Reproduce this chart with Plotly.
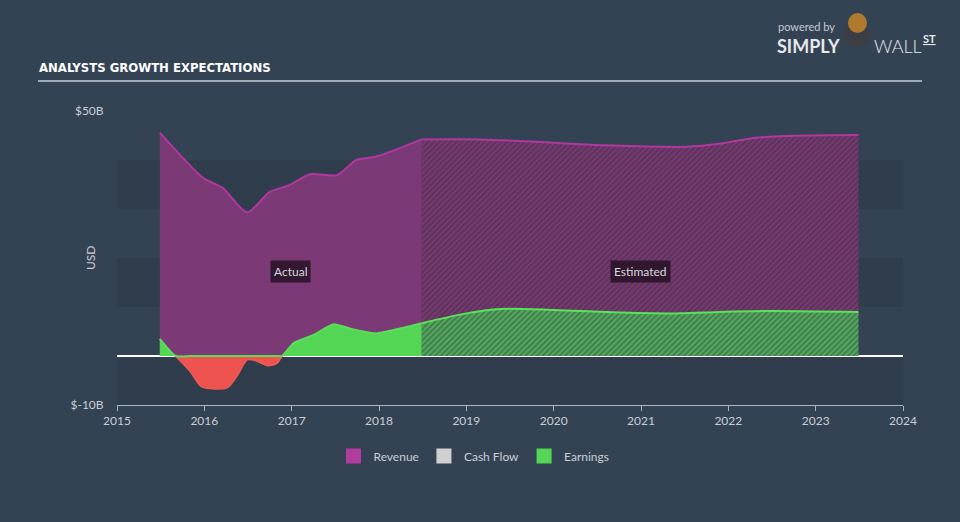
import numpy as np
import plotly.graph_objects as go

# ---- data (USD billions) ----
rev_act_x = [2015.49, 2015.99, 2016.21, 2016.49, 2016.75, 2016.98, 2017.21, 2017.52, 2017.74, 2017.97, 2018.49]
rev_act_y = [45.6, 36.3, 34.3, 29.3, 33.5, 34.9, 37.1, 36.9, 40.0, 40.7, 44.2]
rev_est_x = [2018.49, 2019.12, 2019.61, 2020.19, 2020.76, 2021.52, 2021.90, 2022.29, 2022.67, 2023.49]
rev_est_y = [44.2, 44.2, 43.9, 43.3, 42.9, 42.7, 43.3, 44.5, 44.9, 45.1]

earn_act_x = [2015.49, 2015.67, 2015.84, 2015.97, 2016.26, 2016.37, 2016.49, 2016.58, 2016.73, 2016.83, 2016.89,
              2017.02, 2017.25, 2017.48, 2017.71, 2017.97, 2018.24, 2018.49]
earn_act_y = [3.5, 0.0, -3.2, -6.3, -6.5, -4.2, -0.8, -0.9, -2.0, -1.5, 0.0,
              2.6, 4.3, 6.5, 5.4, 4.6, 5.6, 6.7]
earn_est_x = [2018.49, 2018.97, 2019.39, 2019.99, 2020.76, 2021.45, 2021.90, 2022.48, 2023.49]
earn_est_y = [6.7, 8.6, 9.6, 9.4, 8.9, 8.7, 9.0, 9.2, 9.0]

band_ranges = [(30, 40), (10, 20), (-10, 0)]
y_ticks = [-10, 50]
y_ticktext = ["$-10B", "$50B"]
x_ticks = list(range(2015, 2025))
legend_names = ["Revenue", "Cash Flow", "Earnings"]
legend_colors = ["#b03c9e", "#d0d0d0", "#54d655"]

# ---- layout geometry helpers (pixel -> paper) ----
L, R, T, B = 117, 903, 111, 405
def px(x):
    return (x - L) / (R - L)
def py(y):
    return (B - y) / (B - T)

BG = "#344354"
TXT = "#c9ced5"
FONT = "Lato, Noto Sans, sans-serif"

fig = go.Figure()

# revenue actual
fig.add_trace(go.Scatter(x=rev_act_x, y=rev_act_y, mode="lines", fill="tozeroy",
                         line=dict(color="#b0389f", width=2, shape="spline", smoothing=0.7),
                         fillcolor="#7b3975", showlegend=False, hoverinfo="skip"))
# revenue estimated (hatched)
fig.add_trace(go.Scatter(x=rev_est_x, y=rev_est_y, mode="lines", fill="tozeroy",
                         line=dict(color="#b0389f", width=2, shape="spline", smoothing=0.7),
                         fillcolor="#5e355b",
                         fillpattern=dict(shape="/", bgcolor="#5c3459", fgcolor="#9a3f93",
                                          size=4, solidity=0.45),
                         showlegend=False, hoverinfo="skip"))

ea = np.array(earn_act_y)
pos = np.clip(ea, 0, None)
neg_mask = ea <= 0
neg_x = [x for x, m in zip(earn_act_x, neg_mask) if m]
neg_y = [y for y, m in zip(earn_act_y, neg_mask) if m]

# earnings negative (red)
fig.add_trace(go.Scatter(x=neg_x, y=neg_y, mode="lines", fill="tozeroy",
                         line=dict(color="#f05a55", width=1.5, shape="spline", smoothing=0.7),
                         fillcolor="#ee5350", showlegend=False, hoverinfo="skip"))
# earnings positive actual
fig.add_trace(go.Scatter(x=earn_act_x, y=pos, mode="lines", fill="tozeroy",
                         line=dict(color="#5ade5a", width=2, shape="spline", smoothing=0.5),
                         fillcolor="#54d655", showlegend=False, hoverinfo="skip"))
# earnings estimated (hatched)
fig.add_trace(go.Scatter(x=earn_est_x, y=earn_est_y, mode="lines", fill="tozeroy",
                         line=dict(color="#5ae35a", width=2, shape="spline", smoothing=0.7),
                         fillcolor="#46805a",
                         fillpattern=dict(shape="/", bgcolor="#437a52", fgcolor="#62e062",
                                          size=4, solidity=0.5),
                         showlegend=False, hoverinfo="skip"))

# legend-only entries
for name, col in zip(legend_names, legend_colors):
    fig.add_trace(go.Scatter(x=[None], y=[None], mode="markers", name=name,
                             marker=dict(symbol="square", size=15, color=col)))

shapes = []
for lo, hi in band_ranges:
    shapes.append(dict(type="rect", xref="paper", yref="y", x0=0, x1=1, y0=lo, y1=hi,
                       fillcolor="#2e3b4a", opacity=0.75, line=dict(width=0), layer="below"))
# title underline
shapes.append(dict(type="line", xref="paper", yref="paper", x0=px(38), x1=px(922), y0=py(81), y1=py(81),
                   line=dict(color="#a2abb5", width=2)))
# simple bull logo approximation
shapes.append(dict(type="circle", xref="paper", yref="paper", x0=px(844), x1=px(871), y0=py(47), y1=py(24),
                   fillcolor="#3b3f45", line=dict(width=0)))
shapes.append(dict(type="circle", xref="paper", yref="paper", x0=px(848), x1=px(867), y0=py(33), y1=py(13),
                   fillcolor="#b07a2e", line=dict(width=0)))

annotations = [
    dict(text="<b>ANALYSTS GROWTH EXPECTATIONS</b>", xref="paper", yref="paper", x=px(37), y=py(68),
         xanchor="left", yanchor="middle", showarrow=False,
         font=dict(family="DejaVu Sans Condensed, Liberation Sans Narrow, sans-serif", size=13, color="#ffffff")),
    dict(text="USD", xref="paper", yref="paper", x=px(90), y=py(258), textangle=-90, showarrow=False,
         xanchor="center",
         font=dict(family=FONT, size=12, color=TXT)),
    dict(text="Actual", x=2016.99, y=17.3, showarrow=False, bgcolor="rgba(40,18,38,0.85)", borderpad=3,
         font=dict(family=FONT, size=12, color="#d8d8dc")),
    dict(text="Estimated", x=2020.99, y=17.3, showarrow=False, bgcolor="rgba(40,18,38,0.85)", borderpad=3,
         font=dict(family=FONT, size=12, color="#d8d8dc")),
    dict(text="powered by", xref="paper", yref="paper", x=px(776), y=py(18), xanchor="left", showarrow=False,
         font=dict(family=FONT, size=11, color="#c4c9cf")),
    dict(text="<b>SIMPLY</b>", xref="paper", yref="paper", x=px(775), y=py(33), xanchor="left", showarrow=False,
         font=dict(family=FONT, size=18, color="#e6e8ea")),
    dict(text="WALL", xref="paper", yref="paper", x=px(872), y=py(33), xanchor="left", showarrow=False,
         font=dict(family="Lato Light, Lato, sans-serif", size=18, color="#e6e8ea")),
    dict(text="<b><u>ST</u></b>", xref="paper", yref="paper", x=px(921), y=py(30), xanchor="left", showarrow=False,
         font=dict(family=FONT, size=11, color="#e6e8ea")),
]

fig.update_layout(
    width=960, height=522,
    margin=dict(l=L, r=960 - R, t=T, b=522 - B),
    paper_bgcolor=BG, plot_bgcolor=BG,
    font=dict(family=FONT, color=TXT, size=12),
    shapes=shapes, annotations=annotations,
    showlegend=True,
    legend=dict(orientation="h", x=px(474), xanchor="center", y=py(456), yanchor="middle",
                font=dict(family=FONT, size=12, color=TXT), bgcolor="rgba(0,0,0,0)",
                itemwidth=30, traceorder="normal"),
    hovermode=False,
)
fig.update_xaxes(range=[2015, 2024], tickvals=x_ticks, showgrid=False, zeroline=False,
                 showline=True, linecolor="#aab4c0", linewidth=1,
                 ticks="outside", ticklen=5, tickcolor="#aab4c0",
                 tickfont=dict(family=FONT, size=12, color=TXT), fixedrange=True)
fig.update_yaxes(range=[-10, 50], tickvals=y_ticks, ticktext=y_ticktext, showgrid=False,
                 zeroline=True, zerolinecolor="#ffffff", zerolinewidth=1.5,
                 ticks="outside", ticklen=10, tickcolor="rgba(0,0,0,0)",
                 tickfont=dict(family=FONT, size=12, color=TXT), fixedrange=True)

fig.write_html("out.html")
